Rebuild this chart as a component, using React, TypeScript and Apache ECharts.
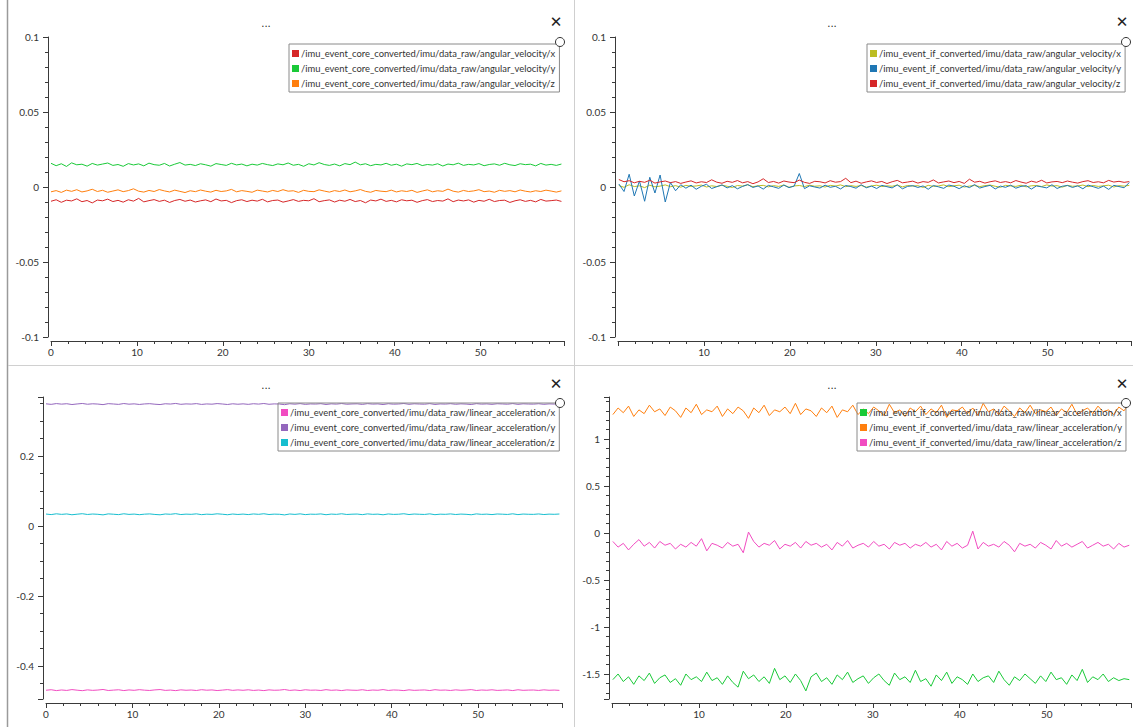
import React, { useEffect, useRef } from "react";
import * as echarts from "echarts";

const STEP = 0.6;
const T0_CORE = 0;
const T0_IF = 0.1;
const X_MAX = 59.7;
const X_TICKS = [0, 10, 20, 30, 40, 50];

const NAMES_AV_CORE = [
  "/imu_event_core_converted/imu/data_raw/angular_velocity/x",
  "/imu_event_core_converted/imu/data_raw/angular_velocity/y",
  "/imu_event_core_converted/imu/data_raw/angular_velocity/z",
];
const NAMES_AV_IF = [
  "/imu_event_if_converted/imu/data_raw/angular_velocity/x",
  "/imu_event_if_converted/imu/data_raw/angular_velocity/y",
  "/imu_event_if_converted/imu/data_raw/angular_velocity/z",
];
const NAMES_LA_CORE = [
  "/imu_event_core_converted/imu/data_raw/linear_acceleration/x",
  "/imu_event_core_converted/imu/data_raw/linear_acceleration/y",
  "/imu_event_core_converted/imu/data_raw/linear_acceleration/z",
];
const NAMES_LA_IF = [
  "/imu_event_if_converted/imu/data_raw/linear_acceleration/x",
  "/imu_event_if_converted/imu/data_raw/linear_acceleration/y",
  "/imu_event_if_converted/imu/data_raw/linear_acceleration/z",
];

const avCoreX = [
  -0.0095,-0.0085,-0.0102,-0.0088,-0.0093,-0.0079,-0.0098,-0.0090,-0.0106,-0.0087,
  -0.0092,-0.0081,-0.0097,-0.0089,-0.0101,-0.0085,-0.0094,-0.0076,-0.0099,-0.0091,
  -0.0084,-0.0096,-0.0088,-0.0103,-0.0090,-0.0083,-0.0095,-0.0087,-0.0100,-0.0092,
  -0.0086,-0.0098,-0.0080,-0.0093,-0.0089,-0.0104,-0.0091,-0.0085,-0.0097,-0.0088,
  -0.0094,-0.0082,-0.0099,-0.0090,-0.0087,-0.0101,-0.0093,-0.0084,-0.0096,-0.0089,
  -0.0092,-0.0078,-0.0098,-0.0091,-0.0086,-0.0100,-0.0088,-0.0095,-0.0083,-0.0097,
  -0.0090,-0.0105,-0.0087,-0.0093,-0.0081,-0.0096,-0.0089,-0.0099,-0.0085,-0.0092,
  -0.0088,-0.0102,-0.0091,-0.0084,-0.0097,-0.0090,-0.0094,-0.0079,-0.0098,-0.0087,
  -0.0093,-0.0086,-0.0101,-0.0089,-0.0095,-0.0082,-0.0097,-0.0090,-0.0088,-0.0103,
  -0.0092,-0.0085,-0.0096,-0.0089,-0.0099,-0.0083,-0.0094,-0.0091,-0.0087,-0.0096,
];
const avCoreY = [
  0.0158,0.0142,0.0155,0.0137,0.0161,0.0148,0.0152,0.0139,0.0157,0.0146,
  0.0153,0.0160,0.0144,0.0150,0.0138,0.0156,0.0147,0.0154,0.0141,0.0159,
  0.0149,0.0145,0.0157,0.0140,0.0152,0.0163,0.0146,0.0151,0.0143,0.0155,
  0.0148,0.0139,0.0156,0.0150,0.0144,0.0158,0.0147,0.0153,0.0141,0.0152,
  0.0146,0.0157,0.0149,0.0143,0.0154,0.0148,0.0160,0.0145,0.0151,0.0138,
  0.0155,0.0147,0.0162,0.0150,0.0144,0.0153,0.0141,0.0156,0.0149,0.0166,
  0.0148,0.0155,0.0142,0.0151,0.0147,0.0158,0.0145,0.0152,0.0139,0.0154,
  0.0149,0.0157,0.0143,0.0150,0.0146,0.0155,0.0140,0.0153,0.0148,0.0159,
  0.0144,0.0151,0.0147,0.0156,0.0142,0.0150,0.0154,0.0145,0.0158,0.0148,
  0.0143,0.0155,0.0149,0.0152,0.0141,0.0157,0.0146,0.0151,0.0144,0.0153,
];
const avCoreZ = [
  -0.0032,-0.0024,-0.0036,-0.0021,-0.0029,-0.0018,-0.0033,-0.0026,-0.0015,-0.0030,
  -0.0022,-0.0035,-0.0027,-0.0019,-0.0031,-0.0024,-0.0012,-0.0028,-0.0034,-0.0023,
  -0.0030,-0.0017,-0.0026,-0.0033,-0.0021,-0.0029,-0.0037,-0.0025,-0.0031,-0.0020,
  -0.0028,-0.0034,-0.0022,-0.0030,-0.0026,-0.0016,-0.0032,-0.0024,-0.0029,-0.0035,
  -0.0021,-0.0027,-0.0033,-0.0023,-0.0030,-0.0018,-0.0028,-0.0025,-0.0036,-0.0022,
  -0.0029,-0.0031,-0.0019,-0.0027,-0.0034,-0.0024,-0.0030,-0.0020,-0.0032,-0.0026,
  -0.0017,-0.0029,-0.0035,-0.0023,-0.0028,-0.0031,-0.0021,-0.0033,-0.0025,-0.0030,
  -0.0022,-0.0036,-0.0027,-0.0019,-0.0032,-0.0025,-0.0029,-0.0014,-0.0028,-0.0034,
  -0.0023,-0.0030,-0.0026,-0.0018,-0.0031,-0.0027,-0.0035,-0.0022,-0.0029,-0.0024,
  -0.0032,-0.0020,-0.0028,-0.0033,-0.0025,-0.0030,-0.0021,-0.0027,-0.0034,-0.0026,
];

const avIfX = [
  0.0010,-0.0002,0.0015,0.0003,0.0008,-0.0004,0.0012,0.0001,0.0006,0.0014,
  0.0002,0.0009,-0.0001,0.0011,0.0004,0.0007,0.0013,0.0000,0.0008,0.0003,
  0.0012,0.0005,-0.0003,0.0010,0.0006,0.0015,0.0002,0.0008,0.0011,0.0001,
  0.0009,0.0004,0.0013,-0.0002,0.0007,0.0010,0.0003,0.0012,0.0005,0.0008,
  0.0000,0.0011,0.0006,0.0014,0.0002,0.0009,0.0004,0.0010,-0.0001,0.0007,
  0.0012,0.0003,0.0008,0.0005,0.0013,0.0001,0.0010,0.0006,0.0009,-0.0003,
  0.0011,0.0004,0.0007,0.0014,0.0002,0.0008,0.0012,0.0000,0.0006,0.0010,
  0.0003,0.0009,0.0013,0.0005,-0.0002,0.0011,0.0007,0.0004,0.0012,0.0001,
  0.0008,0.0010,0.0003,0.0014,0.0006,0.0009,-0.0001,0.0011,0.0005,0.0007,
  0.0013,0.0002,0.0010,0.0004,0.0008,0.0012,0.0000,0.0009,0.0006,0.0011,
];
const avIfY = [
  0.0020,-0.0030,0.0085,-0.0060,0.0040,-0.0095,0.0065,-0.0040,0.0080,-0.0100,
  0.0030,-0.0025,0.0015,-0.0008,0.0012,-0.0015,0.0005,0.0018,-0.0010,0.0002,
  0.0014,-0.0006,0.0009,-0.0012,0.0004,0.0016,-0.0003,0.0007,-0.0014,0.0011,
  0.0001,-0.0009,0.0013,-0.0004,0.0006,0.0090,-0.0011,0.0008,0.0000,-0.0007,
  0.0012,-0.0002,0.0005,-0.0013,0.0010,0.0003,-0.0008,0.0015,-0.0005,0.0006,
  -0.0010,0.0011,0.0002,-0.0006,0.0014,-0.0012,0.0004,0.0009,-0.0003,0.0007,
  -0.0015,0.0010,0.0001,-0.0009,0.0013,0.0005,-0.0011,0.0008,-0.0004,0.0016,
  -0.0007,0.0003,0.0011,-0.0013,0.0006,-0.0002,0.0012,-0.0008,0.0004,0.0009,
  -0.0014,0.0007,0.0001,-0.0006,0.0015,-0.0010,0.0005,0.0010,-0.0003,0.0008,
  -0.0012,0.0013,0.0002,-0.0009,0.0006,-0.0016,0.0011,0.0003,-0.0005,0.0030,
];
const avIfZ = [
  0.0050,0.0035,0.0042,0.0028,0.0038,0.0031,0.0045,0.0026,0.0034,0.0040,
  0.0029,0.0036,0.0024,0.0033,0.0041,0.0027,0.0035,0.0030,0.0048,0.0032,
  0.0025,0.0038,0.0031,0.0043,0.0028,0.0036,0.0022,0.0034,0.0055,0.0030,
  0.0037,0.0026,0.0040,0.0033,0.0029,0.0046,0.0031,0.0024,0.0038,0.0035,
  0.0027,0.0042,0.0032,0.0036,0.0058,0.0029,0.0039,0.0025,0.0034,0.0041,
  0.0030,0.0037,0.0023,0.0035,0.0044,0.0028,0.0033,0.0039,0.0026,0.0036,
  0.0031,0.0047,0.0027,0.0034,0.0040,0.0029,0.0037,0.0024,0.0052,0.0032,
  0.0038,0.0026,0.0035,0.0041,0.0030,0.0036,0.0028,0.0043,0.0033,0.0025,
  0.0039,0.0031,0.0045,0.0027,0.0034,0.0037,0.0029,0.0040,0.0032,0.0026,
  0.0036,0.0042,0.0030,0.0035,0.0028,0.0044,0.0033,0.0038,0.0031,0.0036,
];

const laCoreX = [
  -0.4690,-0.4675,-0.4700,-0.4682,-0.4695,-0.4671,-0.4688,-0.4702,-0.4679,-0.4693,
  -0.4684,-0.4668,-0.4697,-0.4686,-0.4676,-0.4699,-0.4681,-0.4692,-0.4673,-0.4688,
  -0.4696,-0.4680,-0.4670,-0.4694,-0.4685,-0.4701,-0.4678,-0.4690,-0.4683,-0.4697,
  -0.4674,-0.4689,-0.4681,-0.4698,-0.4686,-0.4672,-0.4693,-0.4680,-0.4691,-0.4677,
  -0.4695,-0.4684,-0.4700,-0.4679,-0.4690,-0.4686,-0.4669,-0.4694,-0.4682,-0.4698,
  -0.4676,-0.4689,-0.4685,-0.4696,-0.4673,-0.4691,-0.4683,-0.4699,-0.4680,-0.4688,
  -0.4692,-0.4675,-0.4697,-0.4684,-0.4690,-0.4671,-0.4695,-0.4682,-0.4687,-0.4700,
  -0.4678,-0.4693,-0.4686,-0.4681,-0.4698,-0.4674,-0.4689,-0.4684,-0.4696,-0.4679,
  -0.4691,-0.4685,-0.4672,-0.4697,-0.4683,-0.4690,-0.4677,-0.4694,-0.4688,-0.4681,
  -0.4699,-0.4676,-0.4692,-0.4686,-0.4683,-0.4695,-0.4678,-0.4690,-0.4685,-0.4693,
];
const laCoreY = [
  0.3495,0.3480,0.3502,0.3486,0.3498,0.3475,0.3491,0.3505,0.3483,0.3496,
  0.3488,0.3472,0.3500,0.3490,0.3479,0.3503,0.3485,0.3494,0.3477,0.3492,
  0.3499,0.3484,0.3474,0.3497,0.3489,0.3506,0.3481,0.3493,0.3487,0.3501,
  0.3478,0.3492,0.3485,0.3502,0.3490,0.3476,0.3496,0.3483,0.3494,0.3480,
  0.3498,0.3487,0.3504,0.3482,0.3493,0.3489,0.3471,0.3497,0.3485,0.3501,
  0.3479,0.3492,0.3488,0.3499,0.3476,0.3494,0.3486,0.3503,0.3483,0.3491,
  0.3495,0.3478,0.3500,0.3487,0.3493,0.3474,0.3498,0.3485,0.3490,0.3504,
  0.3481,0.3496,0.3489,0.3484,0.3501,0.3477,0.3492,0.3487,0.3499,0.3482,
  0.3494,0.3488,0.3475,0.3500,0.3486,0.3493,0.3480,0.3497,0.3491,0.3484,
  0.3502,0.3479,0.3495,0.3489,0.3486,0.3498,0.3481,0.3493,0.3488,0.3496,
];
const laCoreZ = [
  0.0345,0.0330,0.0352,0.0336,0.0348,0.0325,0.0341,0.0355,0.0333,0.0346,
  0.0338,0.0322,0.0350,0.0340,0.0329,0.0353,0.0335,0.0344,0.0327,0.0342,
  0.0349,0.0334,0.0324,0.0347,0.0339,0.0356,0.0331,0.0343,0.0337,0.0351,
  0.0328,0.0342,0.0335,0.0352,0.0340,0.0326,0.0346,0.0333,0.0344,0.0330,
  0.0348,0.0337,0.0354,0.0332,0.0343,0.0339,0.0321,0.0347,0.0335,0.0351,
  0.0329,0.0342,0.0338,0.0349,0.0326,0.0344,0.0336,0.0353,0.0333,0.0341,
  0.0345,0.0328,0.0350,0.0337,0.0343,0.0324,0.0348,0.0335,0.0340,0.0354,
  0.0331,0.0346,0.0339,0.0334,0.0351,0.0327,0.0342,0.0337,0.0349,0.0332,
  0.0344,0.0338,0.0325,0.0350,0.0336,0.0343,0.0330,0.0347,0.0341,0.0334,
  0.0352,0.0329,0.0345,0.0339,0.0336,0.0348,0.0331,0.0343,0.0338,0.0346,
];

const laIfX = [
  -1.56,-1.50,-1.58,-1.53,-1.61,-1.52,-1.57,-1.49,-1.60,-1.54,
  -1.51,-1.59,-1.55,-1.62,-1.50,-1.56,-1.53,-1.58,-1.48,-1.57,
  -1.54,-1.61,-1.52,-1.59,-1.64,-1.47,-1.55,-1.51,-1.58,-1.53,
  -1.60,-1.44,-1.56,-1.52,-1.59,-1.50,-1.57,-1.68,-1.53,-1.49,
  -1.58,-1.54,-1.61,-1.51,-1.56,-1.48,-1.59,-1.55,-1.52,-1.60,
  -1.54,-1.50,-1.57,-1.62,-1.49,-1.56,-1.53,-1.59,-1.46,-1.58,
  -1.55,-1.63,-1.51,-1.57,-1.48,-1.60,-1.53,-1.56,-1.61,-1.50,
  -1.58,-1.54,-1.52,-1.59,-1.47,-1.56,-1.62,-1.53,-1.57,-1.50,
  -1.55,-1.60,-1.52,-1.58,-1.48,-1.56,-1.54,-1.61,-1.51,-1.57,
  -1.45,-1.59,-1.53,-1.56,-1.50,-1.58,-1.54,-1.57,-1.55,-1.56,
];
const laIfY = [
  1.26,1.33,1.28,1.35,1.24,1.31,1.27,1.36,1.29,1.32,
  1.25,1.34,1.30,1.23,1.33,1.28,1.37,1.26,1.31,1.29,
  1.35,1.24,1.32,1.27,1.34,1.30,1.22,1.33,1.28,1.36,
  1.25,1.31,1.29,1.34,1.27,1.38,1.26,1.32,1.30,1.24,
  1.33,1.28,1.35,1.23,1.31,1.29,1.36,1.26,1.32,1.27,
  1.34,1.30,1.25,1.37,1.28,1.31,1.24,1.33,1.29,1.35,
  1.26,1.32,1.28,1.36,1.23,1.31,1.30,1.34,1.27,1.33,
  1.25,1.38,1.29,1.32,1.26,1.35,1.30,1.24,1.33,1.28,
  1.36,1.27,1.31,1.29,1.34,1.25,1.32,1.28,1.37,1.26,
  1.30,1.33,1.27,1.35,1.29,1.31,1.26,1.34,1.30,1.38,
];
const laIfZ = [
  -0.09,-0.15,-0.11,-0.18,-0.12,-0.07,-0.14,-0.10,-0.16,-0.09,
  -0.13,-0.11,-0.17,-0.12,-0.15,-0.10,-0.14,-0.06,-0.19,-0.11,
  -0.13,-0.16,-0.10,-0.14,-0.12,-0.21,0.01,-0.09,-0.15,-0.11,
  -0.13,-0.08,-0.17,-0.12,-0.14,-0.10,-0.16,-0.09,-0.13,-0.11,
  -0.15,-0.12,-0.18,-0.10,-0.14,-0.08,-0.16,-0.13,-0.11,-0.15,
  -0.09,-0.14,-0.12,-0.17,-0.10,-0.13,-0.11,-0.16,-0.12,-0.14,
  -0.10,-0.15,-0.12,-0.18,-0.09,-0.14,-0.11,-0.16,-0.13,0.02,
  -0.17,-0.10,-0.14,-0.12,-0.15,-0.09,-0.13,-0.20,-0.11,-0.14,
  -0.12,-0.16,-0.10,-0.13,-0.17,-0.08,-0.14,-0.11,-0.15,-0.12,
  -0.09,-0.16,-0.13,-0.10,-0.14,-0.12,-0.17,-0.11,-0.15,-0.13,
];

const RED = "#d62728";
const GREEN = "#1ac938";
const ORANGE = "#ff7f0e";
const OLIVE = "#bcbd22";
const BLUE = "#1f77b4";
const PINK = "#f14cc1";
const PURPLE = "#9467bd";
const CYAN = "#17becf";

const FONT = "Lato, 'Open Sans', sans-serif";
const AXIS_COLOR = "#3a3a3a";
const LABEL_COLOR = "#333";

type Panel = {
  grid: { left: number; top: number; width: number; height: number };
  yMin: number;
  yMax: number;
  yInterval?: number;
  yMinor: number;
  t0: number;
  showZero: boolean;
  names: string[];
  values: number[][];
  colors: string[];
  legend: { left: number; top: number };
};

const PANELS: Panel[] = [
  {
    grid: { left: 51, top: 37, width: 513, height: 300 },
    yMin: -0.1, yMax: 0.1, yInterval: 0.05, yMinor: 5,
    t0: T0_CORE, showZero: true,
    names: NAMES_AV_CORE, values: [avCoreX, avCoreY, avCoreZ], colors: [RED, GREEN, ORANGE],
    legend: { left: 289, top: 44 },
  },
  {
    grid: { left: 618, top: 37, width: 513, height: 300 },
    yMin: -0.1, yMax: 0.1, yInterval: 0.05, yMinor: 5,
    t0: T0_IF, showZero: false,
    names: NAMES_AV_IF, values: [avIfX, avIfY, avIfZ], colors: [OLIVE, BLUE, RED],
    legend: { left: 867, top: 44 },
  },
  {
    grid: { left: 46, top: 397, width: 516, height: 302 },
    yMin: -0.494, yMax: 0.369, yMinor: 4,
    t0: T0_CORE, showZero: true,
    names: NAMES_LA_CORE, values: [laCoreX, laCoreY, laCoreZ], colors: [PINK, PURPLE, CYAN],
    legend: { left: 278, top: 403 },
  },
  {
    grid: { left: 612, top: 397, width: 519, height: 302 },
    yMin: -1.766, yMax: 1.447, yMinor: 5,
    t0: T0_IF, showZero: false,
    names: NAMES_LA_IF, values: [laIfX, laIfY, laIfZ], colors: [GREEN, ORANGE, PINK],
    legend: { left: 857, top: 403 },
  },
];

function buildOption() {
  const grid: any[] = [];
  const xAxis: any[] = [];
  const yAxis: any[] = [];
  const series: any[] = [];
  const legend: any[] = [];

  PANELS.forEach((p, pi) => {
    grid.push({ ...p.grid, containLabel: false });
    xAxis.push({
      type: "value",
      gridIndex: pi,
      min: 0,
      max: X_MAX,
      interval: X_TICKS[1] - X_TICKS[0],
      offset: 4,
      axisLine: { show: true, onZero: false, lineStyle: { color: AXIS_COLOR, width: 1 } },
      axisTick: { show: true, length: 5, lineStyle: { color: AXIS_COLOR } },
      minorTick: { show: true, splitNumber: 5, length: 3, lineStyle: { color: AXIS_COLOR } },
      splitLine: { show: false },
      axisLabel: {
        color: LABEL_COLOR,
        fontSize: 10,
        fontFamily: FONT,
        margin: 6,
        showMinLabel: p.showZero,
        showMaxLabel: false,
      },
    });
    const y: any = {
      type: "value",
      gridIndex: pi,
      min: p.yMin,
      max: p.yMax,
      offset: 3,
      axisLine: { show: true, onZero: false, lineStyle: { color: AXIS_COLOR, width: 1 } },
      axisTick: { show: true, length: 5, lineStyle: { color: AXIS_COLOR } },
      minorTick: { show: true, splitNumber: p.yMinor, length: 3, lineStyle: { color: AXIS_COLOR } },
      splitLine: { show: false },
      axisLabel: {
        color: LABEL_COLOR,
        fontSize: 10,
        fontFamily: FONT,
        margin: 9,
        showMinLabel: p.yInterval !== undefined,
        showMaxLabel: p.yInterval !== undefined,
      },
    };
    if (p.yInterval !== undefined) y.interval = p.yInterval;
    else y.splitNumber = 5;
    yAxis.push(y);

    p.names.forEach((name, si) => {
      series.push({
        type: "line",
        name,
        xAxisIndex: pi,
        yAxisIndex: pi,
        data: p.values[si].map((v, i) => [p.t0 + i * STEP, v]),
        showSymbol: false,
        symbol: "none",
        lineStyle: { width: 1, color: p.colors[si] },
        itemStyle: { color: p.colors[si] },
        emphasis: { disabled: true },
      });
    });

    legend.push({
      data: p.names,
      orient: "vertical",
      left: p.legend.left,
      top: p.legend.top,
      icon: "rect",
      itemWidth: 7,
      itemHeight: 7,
      itemGap: 4,
      padding: [4, 4, 3, 3],
      borderColor: "#8a8a8a",
      borderWidth: 1,
      selectedMode: false,
      textStyle: {
        fontSize: 9.4,
        lineHeight: 11,
        fontFamily: FONT,
        color: "#333",
        padding: [0, 0, 0, -3],
      },
    });
  });

  const graphic: any[] = [
    { type: "line", shape: { x1: 7.5, y1: 0, x2: 7.5, y2: 727 }, style: { stroke: "#9a9a9a", lineWidth: 1.5 } },
    { type: "line", shape: { x1: 574.5, y1: 0, x2: 574.5, y2: 727 }, style: { stroke: "#cfcfcf", lineWidth: 1 } },
    { type: "line", shape: { x1: 8, y1: 365.5, x2: 1133, y2: 365.5 }, style: { stroke: "#d0d0d0", lineWidth: 1 } },
  ];
  const chrome = [
    { dotsX: 266, closeX: 556, circleX: 560, top: 0 },
    { dotsX: 832, closeX: 1122, circleX: 1126, top: 0 },
    { dotsX: 266, closeX: 556, circleX: 560, top: 362 },
    { dotsX: 832, closeX: 1122, circleX: 1126, top: 362 },
  ];
  chrome.forEach((c) => {
    graphic.push({
      type: "text",
      x: c.dotsX,
      y: c.top + 18,
      style: { text: "...", fontSize: 10, fill: "#222", fontFamily: "DejaVu Sans", textAlign: "center" },
    });
    graphic.push({
      type: "text",
      x: c.closeX,
      y: c.top + 14,
      style: { text: "✕", fontSize: 15, fill: "#222", fontFamily: "DejaVu Sans", textAlign: "center" },
    });
    graphic.push({
      type: "circle",
      shape: { cx: c.circleX, cy: c.top + 42 - (c.top ? 1 : 0), r: 4.5 },
      style: { fill: "#fff", stroke: "#333", lineWidth: 1 },
      z: 100,
    });
  });

  return {
    animation: false,
    backgroundColor: "#ffffff",
    grid,
    xAxis,
    yAxis,
    series,
    legend,
    graphic,
  };
}

export default function App() {
  const ref = useRef<HTMLDivElement>(null);
  useEffect(() => {
    if (!ref.current) return;
    const chart = echarts.init(ref.current, undefined, { renderer: "svg" });
    chart.setOption(buildOption() as any);
    return () => chart.dispose();
  }, []);
  return (
    <div
      ref={ref}
      style={{ position: "fixed", left: 0, top: 0, width: 1133, height: 727, background: "#fff" }}
    />
  );
}
